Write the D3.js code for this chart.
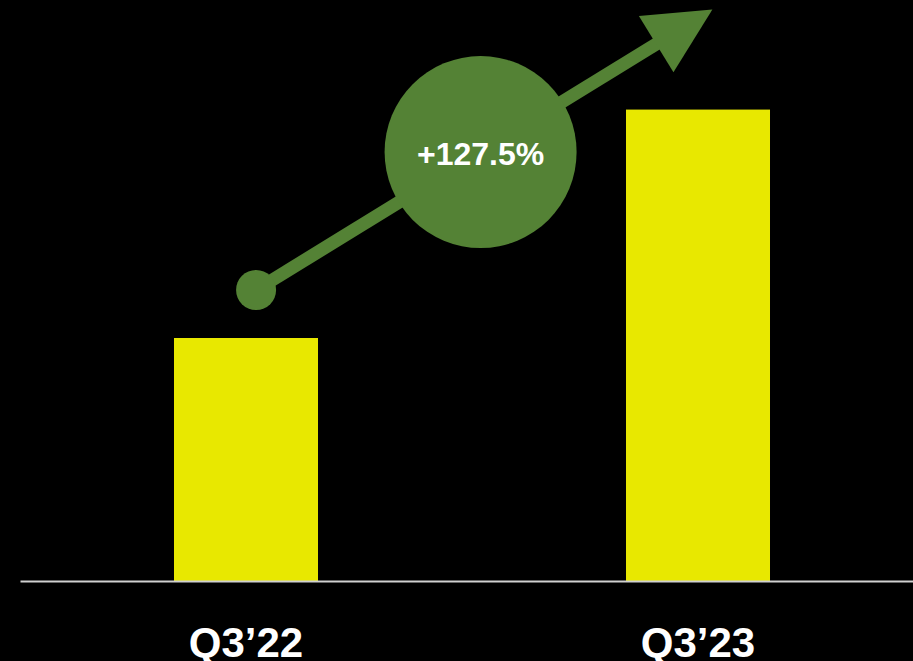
<!DOCTYPE html>
<html>
<head>
<meta charset="utf-8">
<script src="https://cdn.jsdelivr.net/npm/d3@7"></script>
<style>
    html, body { margin: 0; padding: 0; background: #000; }
    svg { display: block; }
    .tick-label { font-family: "Liberation Sans", Arial, sans-serif; font-weight: bold; }
</style>
</head>
<body>
<svg id="chart" width="913" height="661"></svg>
<script>
// Data
var categories = ["Q3\u201922", "Q3\u201923"];
var values = [1.0, 1.94];
var change_label = "+127.5%";

var width = 913;
var height = 661;

// Margins
var left_margin = 20;
var right_edge = 924;
var base_y = 581;
var top_y = 95;

var bar_color = "#e8e800";
var green = "#548235";

var x_scale;
var y_scale;

/**
 * Builds the bar chart.
 */
function buildChart()
{
    var svg = d3.select("#chart");
    svg.append("rect")
        .attr("width", width)
        .attr("height", height)
        .attr("fill", "#000");

    // Scales
    x_scale = d3.scaleBand()
        .range([left_margin, right_edge])
        .domain(categories)
        .paddingInner(0.6814)
        .paddingOuter(0.3407);
    y_scale = d3.scaleLinear()
        .range([base_y, top_y])
        .domain([0, 2]);

    var data = categories.map((c, i) => ({label: c, value: values[i]}));

    // Bars
    svg.append("g")
        .selectAll("rect")
        .data(data)
        .enter()
        .append("rect")
        .attr("x", d => x_scale(d.label))
        .attr("y", d => y_scale(d.value))
        .attr("width", x_scale.bandwidth())
        .attr("height", d => y_scale(0) - y_scale(d.value))
        .attr("fill", bar_color);

    // Axis
    var axis = svg.append("g")
        .attr("transform", "translate(0, " + base_y + ")")
        .call(d3.axisBottom(x_scale)
            .tickSize(0)
            .tickPadding(46)
            .tickSizeOuter(0));
    axis.select(".domain")
        .attr("stroke", "#d0d0d0")
        .attr("stroke-width", 2);
    axis.selectAll("text")
        .attr("class", "tick-label")
        .attr("fill", "#fff")
        .style("font-size", "42px");

    buildArrow(svg, data);
}

/**
 * Draws the growth arrow with its circle label.
 *
 * @param svg   the svg to draw into.
 * @param data  the bar rows.
 */
function buildArrow(svg, data)
{
    var bw = x_scale.bandwidth();
    var start = [x_scale(data[0].label) + bw * 0.57, y_scale(data[0].value) - 48];
    var tip = [x_scale(data[1].label) + bw * 0.6, y_scale(data[1].value) - 100];

    var dx = tip[0] - start[0];
    var dy = tip[1] - start[1];
    var len = Math.sqrt(dx * dx + dy * dy);
    var u = [dx / len, dy / len];
    var n = [-u[1], u[0]];
    var head_len = 66;
    var head_half = 33;
    var base = [tip[0] - head_len * u[0], tip[1] - head_len * u[1]];

    var g = svg.append("g").attr("id", "arrow-group");
    g.append("line")
        .attr("x1", start[0])
        .attr("y1", start[1])
        .attr("x2", base[0] + u[0] * 4)
        .attr("y2", base[1] + u[1] * 4)
        .attr("stroke", green)
        .attr("stroke-width", 13);
    g.append("path")
        .attr("d", d3.line()([
            tip,
            [base[0] + head_half * n[0], base[1] + head_half * n[1]],
            [base[0] - head_half * n[0], base[1] - head_half * n[1]]
        ]) + "Z")
        .attr("fill", green);
    g.append("circle")
        .attr("cx", start[0])
        .attr("cy", start[1])
        .attr("r", 20)
        .attr("fill", green);

    // Circle label
    var t = 0.492;
    var cx = start[0] + dx * t;
    var cy = start[1] + dy * t;
    g.append("circle")
        .attr("cx", cx)
        .attr("cy", cy)
        .attr("r", 96)
        .attr("fill", green);
    g.append("text")
        .attr("class", "tick-label")
        .attr("x", cx)
        .attr("y", cy + 13)
        .attr("text-anchor", "middle")
        .attr("fill", "#fff")
        .style("font-size", "32px")
        .text(change_label);
}

buildChart();
</script>
</body>
</html>
